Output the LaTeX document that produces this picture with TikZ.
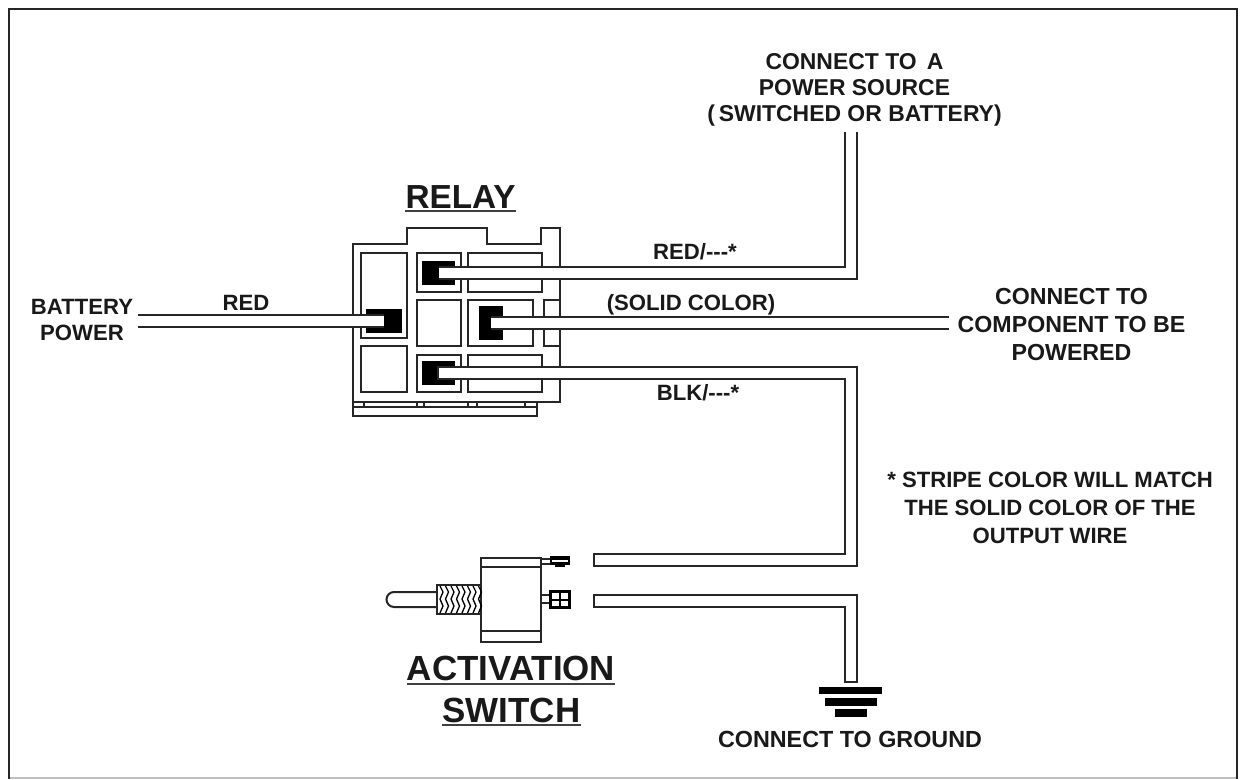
\documentclass[tikz,border=0pt]{standalone}
\usepackage{fontspec}
\setmainfont{Liberation Sans}
\usetikzlibrary{positioning, arrows.meta, calc}

\begin{document}
\begin{tikzpicture}[
    x=0.75pt, y=-0.75pt,
    part/.style={draw=black!85, line width=1.5pt},
    pin/.style 2 args={rectangle, fill=black, inner sep=0pt, minimum width=#1*0.75pt, minimum height=#2*0.75pt},
    wire/.style={draw=black!85, line width=1.5pt, double=white, double distance=7.5pt},
    wireclosed/.style={wire, line cap=rect},
    label/.style={font=\bfseries\fontsize{17.2}{19.5}\selectfont, text=black!90, align=center, inner sep=0pt},
    labelsmall/.style={label, font=\bfseries\fontsize{16.6}{19.5}\selectfont},
    heading/.style={font=\bfseries\fontsize{25}{31}\selectfont, text=black!90, align=center, inner sep=0pt},
    headingwide/.style={heading, font=\bfseries\fontsize{26.2}{31}\selectfont},
    underbar/.style={draw=black!75, line width=1.7pt}
]
\useasboundingbox (0,0) rectangle (1241,779);
% Frame
\draw [black!25, line width=1.5pt] (9,778) -- (1237,778);
\draw [part] (9,779) -- (9,9) -- (1237,9) -- (1237,779);
% Relay housing
\draw [part] (353,244) -- (407,244) -- (407,228) -- (487,228) -- (487,244) -- (541,244) -- (541,228) -- (560,228) -- (560,402) -- (353,402) -- cycle;
\draw [part] (353,402) rectangle (537,416);
\draw [part] (353,407) -- (537,407);
\foreach \tick in {364,417,424,468,477,525}
    \draw [part] (\tick,402) -- (\tick,407);
% Relay cavities
\draw [part] (361,253) rectangle (407,338);
\draw [part] (361,346) rectangle (407,392);
\draw [part] (417,253) rectangle (461,292);
\draw [part] (417,300) rectangle (461,346);
\draw [part] (417,355) rectangle (461,392);
\draw [part] (468,253) rectangle (542,292);
\draw [part] (468,300) rectangle (533,346);
\draw [part] (468,355) rectangle (542,392);
\draw [part] (560,300) -- (544,300) -- (544,346) -- (560,346);
% Relay pins
\node (pintop) [pin={33}{24}] at (438.5,272.5) {};
\node (pinleft) [pin={36}{24}] at (384,321) {};
\node (pinmid) [pin={24}{34}] at (491,322.5) {};
\node (pinbot) [pin={33}{24}] at (438.5,373) {};
% Switch
\draw [part] (481,558) rectangle (541,642);
\draw [part] (481,567) -- (541,567);
\draw [part] (481,631) -- (541,631);
\draw [part] (437,585) rectangle (481,614);
\foreach \turn in {0,...,7}
    \draw [black, line width=1pt] (440+\turn*5.5,586) -- +(3,6) -- +(0,13) -- +(3,20) -- +(0,27);
\draw [part] (437,592) -- (394,592) arc (270:90:7.5) -- (437,607);
\draw [part] (541,559) -- (550,559);
\draw [part] (541,564) -- (550,564);
\draw [part] (541,595) -- (550,595);
\draw [part] (541,603) -- (550,603);
\node (termtop) [pin={20}{9}] at (560,560.5) {};
\draw [white, line width=1.5pt] (552,561) -- (568,561);
\draw [black, line width=2pt] (555,566) -- (565,566);
\node (termbot) [rectangle, draw=black, line width=2pt, inner sep=0pt, minimum width=14pt, minimum height=12pt] at (560,599.5) {};
\draw [black, line width=1.5pt] (termbot.north) -- (termbot.south);
\draw [black, line width=1.5pt] (termbot.west) -- (termbot.east);
% Ground
\node (gnda) [pin={63}{7}] at (850.5,690.5) {};
\node (gndb) [pin={52}{8}] at (851,702) {};
\node (gndc) [pin={32}{8}] at (851,713) {};
% Wire ends
\coordinate (sourceend) at (851,132);
\coordinate (batteryend) at (138,321);
\coordinate (loadend) at (949,322.5);
\coordinate (switchtop) at (600,560);
\coordinate (switchbot) at (600,600.5);
\coordinate (gndend) at (851,676);
% Wires
\draw [wire] (pintop.center) -- (851,272.5) -- (sourceend);
\draw [wire] (batteryend) -- (pinleft.center);
\draw [wire] (pinmid.center) -- (loadend);
\draw [wireclosed] ([xshift=3.75pt]pinbot.center) -- (851,373) -- (851,560) -- (switchtop);
\draw [wireclosed] (switchbot) -- (851,600.5) -- (gndend);
% Labels
\node (relaytitle) [heading] at (460.5,197) {RELAY};
\draw [underbar] (relaytitle.base west |- 0,211) -- (relaytitle.base east |- 0,211);
\node (switchtitlea) [headingwide] at (511,668) {ACTIVATION};
\draw [underbar] (switchtitlea.base west |- 0,684) -- (switchtitlea.base east |- 0,684);
\node (switchtitleb) [headingwide] at (511.5,710) {SWITCH};
\draw [underbar] (switchtitleb.base west |- 0,725) -- (switchtitleb.base east |- 0,725);
\node (sourcelabel) [label] at (854.5,90) {CONNECT TO\, A \\ POWER SOURCE \\ (\,SWITCHED OR BATTERY)};
\node (batterylabel) [labelsmall] at (82,320) {BATTERY \\ POWER};
\node (redlabel) [labelsmall] at (246,303) {RED};
\node (redstripe) [labelsmall] at (695,252) {RED/-{}-{}-*};
\node (solidlabel) [labelsmall] at (691,305) {(SOLID COLOR)};
\node (blkstripe) [labelsmall] at (698,393) {BLK/-{}-{}-*};
\node (loadlabel) [label, font=\bfseries\fontsize{17.4}{21}\selectfont] at (1071.5,325) {CONNECT TO \\ COMPONENT TO BE \\ POWERED};
\node (stripenote) [labelsmall, font=\bfseries\fontsize{16.6}{21}\selectfont] at (1050,507.5) {* STRIPE COLOR WILL MATCH \\ THE SOLID COLOR OF THE \\ OUTPUT WIRE};
\node (gndlabel) [label, font=\bfseries\fontsize{17.5}{19.5}\selectfont] at (850,739) {CONNECT TO GROUND};
\end{tikzpicture}
\end{document}
